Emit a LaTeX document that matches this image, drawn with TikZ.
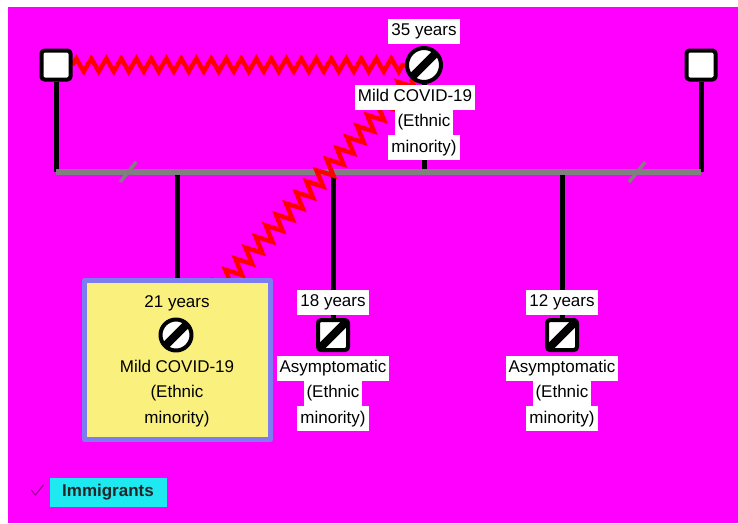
\documentclass[tikz,border=0pt]{standalone}
\usepackage{fontspec}
\setmainfont{Liberation Sans}
\usetikzlibrary{positioning,backgrounds,decorations.pathmorphing}
\definecolor{bgpink}{RGB}{255,0,255}
\definecolor{boxyellow}{RGB}{250,240,125}
\definecolor{boxrim}{RGB}{125,125,240}
\definecolor{legcyan}{RGB}{30,232,240}
\definecolor{sibgray}{RGB}{128,128,128}
\begin{document}
\begin{tikzpicture}[x=1pt,y=-1pt,line join=round,line cap=round]
        \tikzset{every node/.style={font=\fontsize{17}{20}\selectfont},
            plain/.style={inner xsep=3pt,inner ysep=4pt,text height=13pt,text depth=4pt},
            tag/.style={plain,fill=white},
            male/.style={draw,line width=4pt,fill=white,rounded corners=3pt,minimum size=29pt,inner sep=0pt},
            female/.style={circle,draw,line width=4pt,fill=white,minimum size=34pt,inner sep=0pt},
            sick/.style={path picture={\draw[line width=8pt] (path picture bounding box.south west)--(path picture bounding box.north east);}},
            bond/.style={draw=red,line width=4.5pt,line cap=butt,line join=miter,decorate,decoration={zigzag,segment length=15pt,amplitude=6.5pt}},
            kin/.style={line width=5pt,line cap=butt},
            cut/.style={draw=sibgray,line width=3.5pt}}
        \node[male] (mL) at (56,65) {};
        \node[male] (mR) at (701,65) {};
        \node[female,sick] (fA) at (424,65) {};
        \node[tag] (fA-age) at (424,31) {35 years};
        \node[tag] (fA-a) at (415,97) {Mild COVID-19};
        \node[tag,below=0pt of fA-a.south -| fA] (fA-b) {(Ethnic};
        \node[tag,below=0pt of fA-b] (fA-c) {minority)};
        \node[draw=boxrim,line width=5pt,fill=boxyellow,minimum width=186pt,minimum height=159pt] (hl) at (177.5,360) {};
        \node[plain] (c1-age) at (177,303) {21 years};
        \node[female,sick,minimum size=31pt] (c1) at (176,335) {};
        \node[plain] (c1-a) at (177,368) {Mild COVID-19};
        \node[plain,below=0pt of c1-a] (c1-b) {(Ethnic};
        \node[plain,below=0pt of c1-b] (c1-c) {minority)};
        \foreach \cx/\age/\kid in {333/18/kB,562/12/kC}{
            \node[tag] (\kid-age) at (\cx,302) {\age\ years};
            \node[male,sick,minimum size=30pt] (\kid) at (\cx,335) {};
            \node[tag] (\kid-a) at (\cx,368) {Asymptomatic};
            \node[tag,below=0pt of \kid-a] (\kid-b) {(Ethnic};
            \node[tag,below=0pt of \kid-b] (\kid-c) {minority)};
        }
        \node[fill=legcyan,text=black!85,font=\bfseries\fontsize{17}{20}\selectfont,minimum width=117pt,minimum height=29pt,inner sep=0pt] (leg) at (108,492) {Immigrants};
        \draw[bgpink!55!black,line width=1pt] ([shift={(-18pt,2pt)}]leg.west)--([shift={(-14pt,-3pt)}]leg.west)--([shift={(-6pt,7pt)}]leg.west);
        \begin{scope}[on background layer]
            \fill[white] (0,0) rectangle (738,523);
            \fill[bgpink] (8,7) rectangle (738,523);
            \coordinate (jL) at (56,172);
            \coordinate (jR) at (701,172);
            \draw[kin] (mL.south) -- (jL);
            \draw[kin] (mR.south) -- (jR);
            \draw[kin] (fA.south) -- (fA |- jL);
            \foreach \kid in {hl,kB,kC}
            \draw[kin] (\kid.north |- jL) -- (\kid.north);
            \draw[sibgray,line width=6pt,line cap=butt] (jL) -- (jR);
            \path (jL) -- (jR) coordinate[pos=0.112] (sL) coordinate[pos=0.901] (sR);
            \foreach \s in {sL,sR}
            \draw[cut] ([shift={(-8pt,-10pt)}]\s) -- ([shift={(8pt,10pt)}]\s);
            \draw[bond] (mL.east) -- (fA.west);
            \draw[bond,decoration={segment length=15pt,amplitude=8pt}] (fA) -- (c1);
        \end{scope}
    \end{tikzpicture}
\end{document}
